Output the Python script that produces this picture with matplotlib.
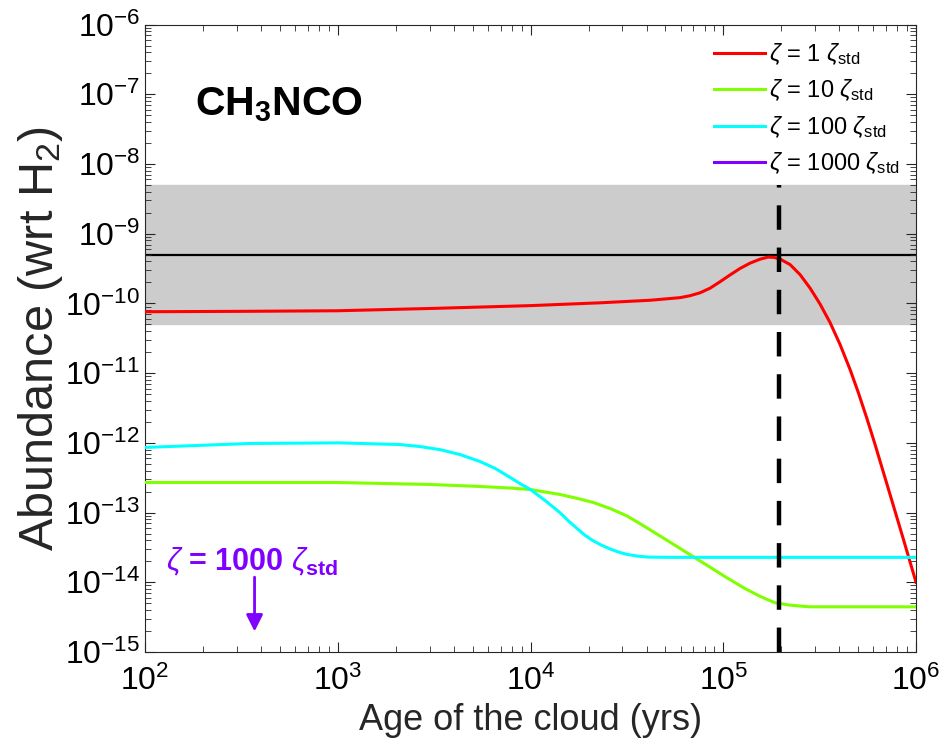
import numpy as np
import matplotlib
matplotlib.use('Agg')
import matplotlib.pyplot as plt

plt.rcParams['font.family'] = ['Liberation Sans', 'DejaVu Sans']
plt.rcParams['mathtext.fontset'] = 'custom'
plt.rcParams['mathtext.rm'] = 'Liberation Sans'
plt.rcParams['mathtext.it'] = 'Liberation Sans:italic'
plt.rcParams['mathtext.bf'] = 'Liberation Sans:bold'

# Datos
t_red = [1e2, 3.2e2, 1e3, 3.2e3, 1e4, 2.29e4, 4.17e4, 5.97e4, 6.72e4, 7.575e4,
         8.53e4, 9.62e4, 1.084e5, 1.221e5, 1.376e5, 1.551e5, 1.707e5, 1.834e5,
         1.97e5, 2.22e5, 2.502e5, 2.819e5, 3.177e5, 3.58e5, 4.034e5, 4.546e5,
         5.003e5, 5.549e5, 6.129e5, 6.505e5, 7.331e5, 8.563e5, 1e6]
y_red = [7.6e-11, 7.7e-11, 7.85e-11, 8.5e-11, 9.3e-11, 1.02e-10, 1.11e-10,
         1.21e-10, 1.29e-10, 1.42e-10, 1.651e-10, 2.046e-10, 2.56e-10,
         3.17e-10, 3.78e-10, 4.31e-10, 4.62e-10, 4.57e-10, 4.33e-10, 3.61e-10,
         2.59e-10, 1.66e-10, 9.8e-11, 5.32e-11, 2.58e-11, 1.13e-11, 5.4e-12,
         2.28e-12, 9.49e-13, 5.47e-13, 1.82e-13, 4.31e-14, 1e-14]

t_green = [1e2, 1e3, 3.01e3, 5.47e3, 7.83e3, 1.0e4, 1.42e4, 1.743e4, 2.11e4,
           2.585e4, 3.168e4, 3.835e4, 4.7e4, 6.97e4, 1.04e5, 1.3e5, 1.55e5,
           1.85e5, 2.22e5, 2.82e5, 1e6]
y_green = [2.7e-13, 2.7e-13, 2.53e-13, 2.37e-13, 2.25e-13, 2.14e-13, 1.82e-13,
           1.60e-13, 1.4e-13, 1.146e-13, 8.94e-14, 6.53e-14, 4.62e-14, 2.34e-14,
           1.17e-14, 8.1e-15, 6.3e-15, 5.1e-15, 4.7e-15, 4.45e-15, 4.45e-15]

t_cyan = [1e2, 3.5e2, 1.02e3, 2.1e3, 2.67e3, 3.39e3, 4.31e3, 5.47e3, 6.55e3,
          7.83e3, 8.83e3, 1.0e4, 1.19e4, 1.42e4, 1.584e4, 1.743e4, 1.906e4,
          2.098e4, 2.322e4, 2.585e4, 2.844e4, 3.168e4, 3.612e4, 4.07e4,
          5.36e4, 1e6]
y_cyan = [8.6e-13, 9.8e-13, 1.0e-12, 9.46e-13, 8.85e-13, 8.0e-13, 6.8e-13,
          5.4e-13, 4.3e-13, 3.2e-13, 2.6e-13, 2.14e-13, 1.49e-13, 1.0e-13,
          7.46e-14, 5.92e-14, 4.78e-14, 3.99e-14, 3.43e-14, 3.01e-14, 2.73e-14,
          2.51e-14, 2.37e-14, 2.30e-14, 2.28e-14, 2.28e-14]

# 1000 zeta_std queda fuera del rango del eje
t_purple = []
y_purple = []

obs = 5e-10
obs_low = 5e-11
obs_high = 5e-9
t_best = 1.95e5

labels = [r'$\zeta$ = 1 $\zeta_{\rm std}$', r'$\zeta$ = 10 $\zeta_{\rm std}$',
          r'$\zeta$ = 100 $\zeta_{\rm std}$', r'$\zeta$ = 1000 $\zeta_{\rm std}$']
colors = ['#ff0000', '#80ff00', '#00ffff', '#8000ff']

#Crear figura
fig = plt.figure(figsize=(9.43, 7.48), dpi=100)
ax = fig.add_axes([0.1538, 0.1283, 0.8176, 0.8389])

ax.set_xscale('log')
ax.set_yscale('log')
ax.set_xlim([1e2, 1e6])
ax.set_ylim([1e-15, 1e-6])

ax.axhspan(obs_low, obs_high, color='#cccccc', zorder=0)
ax.axhline(obs, color='k', linewidth=1.6, zorder=1)

ax.plot(t_red, y_red, color=colors[0], linewidth=2.2, label=labels[0], zorder=3)
ax.plot(t_green, y_green, color=colors[1], linewidth=2.2, label=labels[1], zorder=3)
ax.plot(t_cyan, y_cyan, color=colors[2], linewidth=2.2, label=labels[2], zorder=3)
ax.plot(t_purple, y_purple, color=colors[3], linewidth=2.2, label=labels[3], zorder=3)

ax.plot([t_best, t_best], [1e-15, obs_high], color='k', linewidth=3.2,
        dashes=(5.5, 4), zorder=4)

ax.text(0.065, 0.872, r'CH$_{\mathbf{3}}$NCO', transform=ax.transAxes,
        fontsize=29.5, fontweight='bold', va='center', ha='left')

ax.text(0.139, 0.143, r'$\zeta$ = 1000 $\zeta_{\mathbf{std}}$', transform=ax.transAxes,
        fontsize=22, fontweight='bold', color=colors[3], va='center', ha='center')
ax.annotate('', xy=(3.7e2, 1.8e-15), xytext=(3.7e2, 1.3e-14),
            arrowprops=dict(arrowstyle='-|>', color=colors[3], lw=2,
                            mutation_scale=25))

leg = ax.legend(loc='upper right', frameon=False, fontsize=17,
                handlelength=2.15, handletextpad=0.15, labelspacing=0.45,
                borderaxespad=0.3)

ax.tick_params(which='both', direction='in', top=True, right=True,
               labelsize=23, color='#262626')
ax.tick_params(which='major', length=7, width=0.8)
ax.tick_params(which='minor', length=4, width=0.6)
ax.xaxis.set_minor_locator(matplotlib.ticker.LogLocator(base=10, subs=np.arange(2, 10), numticks=20))
ax.yaxis.set_minor_locator(matplotlib.ticker.LogLocator(base=10, subs=np.arange(2, 10), numticks=20))
ax.yaxis.set_major_locator(matplotlib.ticker.LogLocator(base=10, numticks=20))
for s in ax.spines.values():
    s.set_color('#262626')
    s.set_linewidth(0.8)
ax.tick_params(axis='x', pad=10)

ax.set_xlabel('Age of the cloud (yrs)', fontsize=26, color='#262626')
ax.set_ylabel(r'Abundance (wrt H$_2$)', fontsize=35, color='#262626', labelpad=0)

fig.savefig('out.png', dpi=100)
